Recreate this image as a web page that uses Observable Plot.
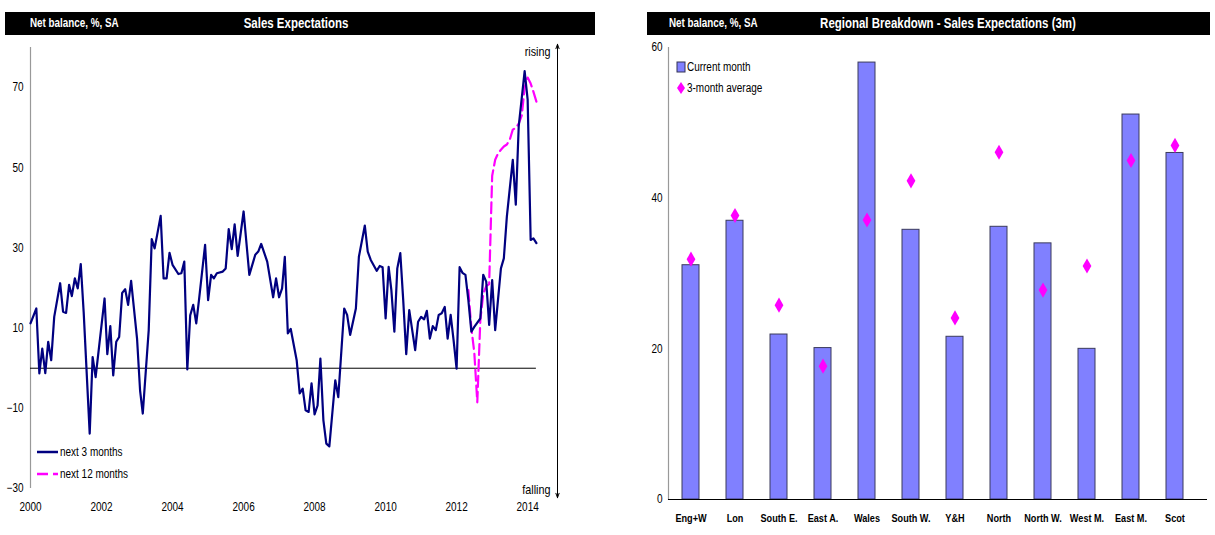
<!DOCTYPE html>
<html>
<head>
<meta charset="utf-8">
<script src="https://cdn.jsdelivr.net/npm/d3@7"></script>
<script src="https://cdn.jsdelivr.net/npm/@observablehq/plot@0.6"></script>
<style>
  html, body { margin: 0; padding: 0; background: #fff; }
  body { width: 1215px; height: 535px; position: relative; overflow: hidden;
         font-family: "Liberation Sans", Arial, sans-serif; }
  .bar { position: absolute; top: 12px; height: 23px; background: #000; color: #fff; }
  .bar .sub { position: absolute; top: 4px; font-size: 12px; font-weight: bold; white-space: nowrap; transform: scaleX(0.82); transform-origin: left center; }
  .bar .ttl { position: absolute; top: 3px; font-size: 14px; font-weight: bold; white-space: nowrap; transform: translateX(-50%) scaleX(0.82); }
  .plot { position: absolute; top: 35px; }
  .leg { position: absolute; font-size: 12px; white-space: nowrap; color: #000; }
  .leg span { display: inline-block; transform: scaleX(0.83); transform-origin: left center; position: relative; top: 1px; margin-left: 1px; }
  svg text { font-family: "Liberation Sans", Arial, sans-serif; }
</style>
</head>
<body>
<div class="bar" style="left:5px;width:590px;"><span class="sub" style="left:25px">Net balance, %, SA</span><span class="ttl" style="left:291px">Sales Expectations</span></div>
<div class="bar" style="left:647px;width:563px;"><span class="sub" style="left:22px">Net balance, %, SA</span><span class="ttl" style="left:301px">Regional Breakdown - Sales Expectations (3m)</span></div>
<div id="left" class="plot" style="left:0px"></div>
<div id="right" class="plot" style="left:600px"></div>

<div class="leg" style="left:37px;top:444px;">
  <svg width="22" height="16" style="vertical-align:middle"><line x1="0" y1="8" x2="21" y2="8" stroke="#000080" stroke-width="2.5"/></svg><span>next 3 months</span>
</div>
<div class="leg" style="left:37px;top:466px;">
  <svg width="22" height="16" style="vertical-align:middle"><line x1="0" y1="8" x2="21" y2="8" stroke="#FF00FF" stroke-width="2.5" stroke-dasharray="11,5"/></svg><span>next 12 months</span>
</div>
<div class="leg" style="left:676px;top:59px;">
  <svg width="10" height="16" style="vertical-align:middle"><rect x="1" y="3" width="8" height="10" fill="#8080FF" stroke="#333355" stroke-width="1"/></svg><span>Current month</span>
</div>
<div class="leg" style="left:676px;top:80px;">
  <svg width="10" height="16" style="vertical-align:middle"><path d="M5,2 L9,8 L5,14 L1,8 Z" fill="#FF00FF"/></svg><span>3-month average</span>
</div>

<script>
// ---------- Left chart data: Sales expectations, net balance ----------
const months3m = ["2000-01","2000-03","2000-04","2000-05","2000-06","2000-07","2000-08","2000-09","2000-11","2000-12",
  "2001-01","2001-02","2001-03","2001-04","2001-05","2001-06","2001-07","2001-09","2001-10","2001-11",
  "2002-02","2002-03","2002-04","2002-05","2002-06","2002-07","2002-08","2002-09","2002-10","2002-11",
  "2003-01","2003-02","2003-03","2003-05","2003-06","2003-07","2003-09","2003-10","2003-11","2003-12",
  "2004-01","2004-03","2004-04","2004-05","2004-06","2004-07","2004-08","2004-09","2004-10","2004-12",
  "2005-01","2005-02","2005-03","2005-04","2005-06","2005-07","2005-08","2005-09","2005-10","2005-11",
  "2006-01","2006-03","2006-05","2006-06","2006-07","2006-09","2006-11","2006-12",
  "2007-01","2007-02","2007-03","2007-04","2007-05","2007-07","2007-08","2007-09","2007-10","2007-11","2007-12",
  "2008-01","2008-02","2008-03","2008-04","2008-05","2008-06","2008-08","2008-09","2008-11","2008-12",
  "2009-01","2009-03","2009-04","2009-06","2009-07","2009-08","2009-10","2009-11","2009-12",
  "2010-01","2010-02","2010-03","2010-04","2010-05","2010-06","2010-07","2010-08","2010-09","2010-11","2010-12",
  "2011-01","2011-02","2011-03","2011-04","2011-05","2011-06","2011-07","2011-08","2011-09","2011-10","2011-11","2011-12",
  "2012-01","2012-02","2012-03","2012-04","2012-05","2012-06","2012-07","2012-09","2012-10","2012-11","2012-12",
  "2013-01","2013-02","2013-04","2013-05","2013-06","2013-08","2013-09","2013-10","2013-12",
  "2014-01","2014-02","2014-03","2014-04"];
const values3m = [11.2,14.9,-1.3,4.9,-1.2,6.6,2,12.8,21.2,14.1,
  13.8,20.8,18,22.4,19.9,26,14,-16.3,2.8,-2.2,
  17.4,3.5,10.5,-1.8,6.6,7.8,18.8,19.7,15.8,21.8,
  7.4,-5.5,-11.3,9.5,32.2,29.9,38,22.4,22.4,28.8,
  25.8,23.5,23.7,26.6,-0.3,13.2,15.8,11.2,17.4,30.8,
  17,23.3,22.4,23.7,24.1,24.9,34.7,29.7,35.9,28,
  39.1,23.3,28.3,29.1,31,26.6,17.7,22.4,
  17.7,19.9,27.8,8.7,9.8,2,-6.3,-5.1,-10.5,-10.9,-3.8,
  -11.5,-9.3,2.4,-13,-18.8,-19.5,-3,-7.2,14.9,13.3,
  8.3,14.9,27.8,35.6,29.1,27,24.3,25.5,25.2,
  12.4,25.3,19.5,9.1,24.9,28.7,17,3.5,14.5,4.5,11.6,
  12.8,12.2,14.3,7.4,10.5,9.5,13.3,13.7,15.3,7.4,13.3,7,
  -0.1,25.2,23.8,23.3,17,9.1,10.3,12.4,23.3,21.6,10.8,
  22,9.5,24.9,27.4,37.8,52,40.8,60.3,74.1,
  67,32,32.4,31.2];
const months12m = ["2012-05","2012-06","2012-07","2012-08","2012-09","2012-10","2012-11","2012-12",
  "2013-01","2013-02","2013-03","2013-04","2013-05","2013-06","2013-07","2013-08","2013-09","2013-10","2013-11","2013-12",
  "2014-01","2014-02","2014-03","2014-04"];
const values12m = [19.5,10,4,-8.5,12,18.5,20.5,21,
  48,52,53.5,54.5,55.3,55.8,57,59.5,60,61,63,70,
  72.5,71,69,66.5];
const leftYTicks = [-30,-10,10,30,50,70];
const leftXTickYears = ["2000","2002","2004","2006","2008","2010","2012","2014"];
const seriesNames = ["next 3 months","next 12 months"];

// ---------- Right chart data: regional breakdown ----------
const regions = ["Eng+W","Lon","South E.","East A.","Wales","South W.","Y&H","North","North W.","West M.","East M.","Scot"];
const currentMonth = [31.1,37.0,21.9,20.1,58.0,35.8,21.6,36.2,34.0,20.0,51.1,46.0];
const threeMonthAvg = [31.9,37.7,25.8,17.7,37.1,42.3,24.1,46.1,27.8,31.0,45.0,47.0];
const rightYTicks = [0,20,40,60];

const FONT = '"Liberation Sans", Arial, sans-serif';
const parse = d3.utcParse("%Y-%m");
const d3m = months3m.map((m, i) => ({date: parse(m), value: values3m[i], series: seriesNames[0]}));
const d12m = months12m.map((m, i) => ({date: parse(m), value: values12m[i], series: seriesNames[1]}));
const dStart = d3m[0].date;
const dLast = d3m[d3m.length - 1].date;
const dEdge = new Date(Date.UTC(2014, 10, 4));

// condense svg text to imitate a narrow typeface
function narrow(svg, k) {
  svg.querySelectorAll("text").forEach(t => {
    const L = t.getComputedTextLength();
    if (L > 0) {
      t.setAttribute("textLength", (L * k).toFixed(1));
      t.setAttribute("lengthAdjust", "spacingAndGlyphs");
    }
  });
}

const left = Plot.plot({
  width: 600, height: 500,
  marginTop: 12, marginBottom: 47, marginLeft: 30, marginRight: 43,
  style: {fontFamily: FONT, fontSize: "12px", color: "#000", background: "transparent"},
  x: {type: "utc", domain: [dStart, dEdge]},
  y: {domain: [-30, 80]},
  marks: [
    Plot.ruleX([dStart], {y1: -30, y2: 80, stroke: "#999", strokeWidth: 1.2}),
    Plot.ruleY([{y: 0, x1: dStart, x2: dLast}], {y: "y", x1: "x1", x2: "x2", stroke: "#000", strokeWidth: 1}),
    Plot.line(d12m, {x: "date", y: "value", stroke: "#FF00FF", strokeWidth: 2.2, strokeDasharray: "11,5"}),
    Plot.line(d3m, {x: "date", y: "value", stroke: "#000080", strokeWidth: 2.2}),
    Plot.arrow([{x: dEdge, y1: 24, y2: 80.8}, {x: dEdge, y1: 24, y2: -32.3}],
      {x1: "x", x2: "x", y1: "y1", y2: "y2", bend: 0, headLength: 7, headAngle: 40, stroke: "#000", strokeWidth: 1}),
    Plot.text([{x: dEdge, y: 78.8, t: "rising"}, {x: dEdge, y: -30.3, t: "falling"}],
      {x: "x", y: "y", text: "t", textAnchor: "end", dx: -7, fontSize: 13}),
    Plot.axisX({ticks: leftXTickYears.map(y => d3.utcParse("%Y")(y)), tickFormat: d3.utcFormat("%Y"), tickSize: 0, tickPadding: 14, fontSize: 12, label: null}),
    Plot.axisY({ticks: leftYTicks, tickSize: 0, tickPadding: 7, fontSize: 12, label: null})
  ]
});
document.getElementById("left").append(left);
narrow(left, 0.83);

const regionData = regions.map((r, i) => ({region: r, current: currentMonth[i], avg: threeMonthAvg[i]}));
const right = Plot.plot({
  width: 615, height: 500,
  marginTop: 12, marginBottom: 36, marginLeft: 68, marginRight: 8,
  style: {fontFamily: FONT, fontSize: "12px", color: "#000", background: "transparent"},
  x: {domain: regions, paddingInner: 0.62, paddingOuter: 0.31, insetRight: 9, insetLeft: -1},
  y: {domain: [0, 60]},
  marks: [
    Plot.frame({anchor: "left", stroke: "#999", strokeWidth: 1.2}),
    Plot.barY(regionData, {x: "region", y: "current", fill: "#8080FF", stroke: "#3a3a5c", strokeWidth: 1}),
    Plot.ruleY([0], {stroke: "#000", strokeWidth: 1}),
    Plot.dot(regionData, {x: "region", y: "avg", symbol: "diamond", r: 4.6, fill: "#FF00FF", stroke: "none"}),
    Plot.axisX({tickSize: 0, tickPadding: 15, fontSize: 11, fontWeight: "bold", label: null}),
    Plot.axisY({ticks: rightYTicks, tickSize: 0, tickPadding: 6, fontSize: 12, label: null})
  ]
});
document.getElementById("right").append(right);
narrow(right, 0.83);
</script>
</body>
</html>
